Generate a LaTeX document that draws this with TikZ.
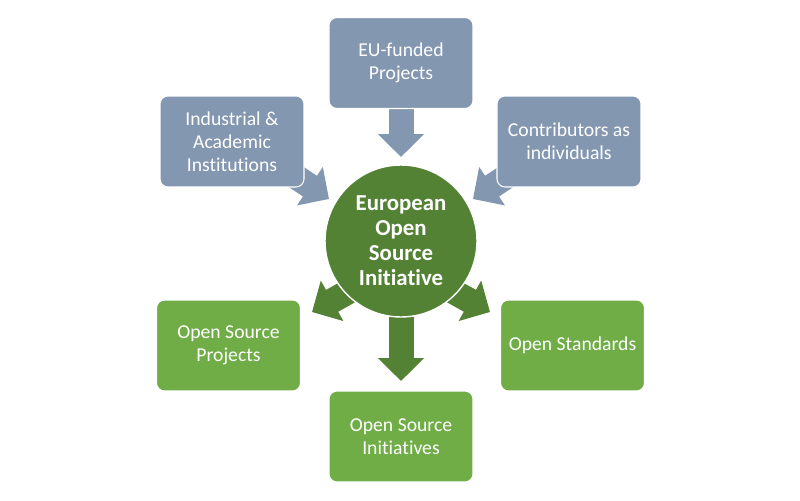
\documentclass[tikz,border=0pt]{standalone}
\usepackage{fontspec}
\setmainfont{Carlito}[Ligatures={NoCommon}]
\usetikzlibrary{arrows.meta,backgrounds}
\definecolor{boxblue}{HTML}{8497B0}
\definecolor{boxgreen}{HTML}{70AD47}
\definecolor{hubgreen}{HTML}{548235}
\begin{document}
\begin{tikzpicture}[x=0.02cm,y=-0.02cm,
  box/.style={rounded corners=0.16cm, draw=white, line width=0.6pt, text=white,
    align=center, inner sep=0pt, minimum width=2.88cm, minimum height=1.82cm,
    font=\fontsize{11.2}{13}\selectfont},
  bluebox/.style={box, fill=boxblue},
  greenbox/.style={box, fill=boxgreen},
  hub/.style={circle, fill=hubgreen, draw=white, line width=0.8pt, text=white,
    align=center, inner sep=0pt, minimum size=3.04cm,
    font=\fontsize{13}{14.2}\selectfont\bfseries},
  blockarrow/.style={line width=0.5cm, -{Triangle[length=0.46cm,width=0.9cm]}},
  bluearrow/.style={blockarrow, draw=boxblue},
  greenarrow/.style={blockarrow, draw=hubgreen}]
\useasboundingbox (0,0) rectangle (800,500);
\node[bluebox] (eu) at (401,63) {EU-funded\\Projects};
\node[bluebox] (ind) at (232,141.5) {Industrial \&\\Academic\\Institutions};
\node[bluebox] (con) at (569,141.5) {Contributors as\\individuals};
\node[hub] (c) at (401,241) {European\\Open\\Source\\Initiative};
\node[greenbox] (ops) at (228.5,345.5) {Open Source\\Projects};
\node[greenbox] (ost) at (572.5,345.5) {Open Standards};
\node[greenbox] (osi) at (401,436.5) {Open Source\\Initiatives};
\coordinate (ttip) at (401,157);
\coordinate (tls) at (265,156);
\coordinate (tltip) at (329,199);
\coordinate (trs) at (537,156);
\coordinate (trtip) at (473,199);
\coordinate (btip) at (401,381);
\coordinate (lls) at (373,278);
\coordinate (lltip) at (312,312);
\coordinate (lrs) at (429,278);
\coordinate (lrtip) at (490,312);
\begin{scope}[on background layer]
\draw[bluearrow] (eu.center) -- (ttip);
\draw[bluearrow] (tls) -- (tltip);
\draw[bluearrow] (trs) -- (trtip);
\draw[greenarrow] (c.center) -- (btip);
\draw[greenarrow] (lls) -- (lltip);
\draw[greenarrow] (lrs) -- (lrtip);
\end{scope}
\end{tikzpicture}
\end{document}
